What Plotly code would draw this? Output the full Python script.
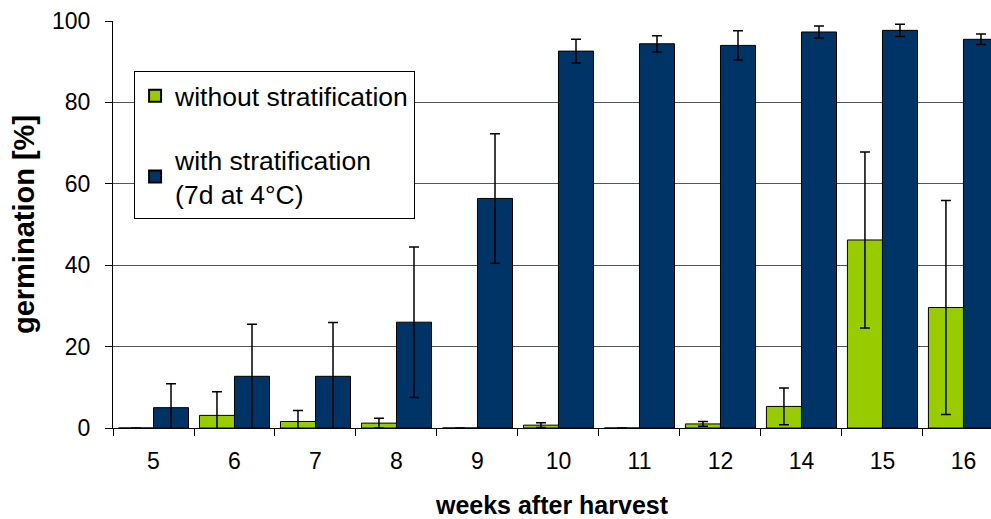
import plotly.graph_objects as go

weeks = ["5", "6", "7", "8", "9", "10", "11", "12", "14", "15", "16"]
without_strat = [0, 3.1, 1.6, 1.2, 0, 0.7, 0, 1.0, 5.3, 46.2, 29.6]
without_err = [0, 5.8, 2.7, 1.2, 0, 0.6, 0, 0.6, 4.5, 21.6, 26.3]
with_strat = [5.0, 12.7, 12.7, 26.0, 56.4, 92.6, 94.4, 94.0, 97.3, 97.7, 95.5]
with_err = [5.9, 12.8, 13.2, 18.5, 15.9, 2.9, 2.0, 3.6, 1.5, 1.5, 1.3]

FONT = "Liberation Sans, Arial, sans-serif"

fig = go.Figure()
fig.add_trace(go.Bar(
    x=weeks, y=without_strat, name="without stratification",
    legendgroup="a",
    marker=dict(color="#99CC00", line=dict(color="#000000", width=1)),
    error_y=dict(type="data", array=without_err, visible=True,
                 color="#000000", thickness=1.5, width=5),
))
fig.add_trace(go.Bar(
    x=weeks, y=with_strat, name="with stratification<br>(7d at 4°C)",
    legendgroup="b",
    marker=dict(color="#003366", line=dict(color="#000000", width=1)),
    error_y=dict(type="data", array=with_err, visible=True,
                 color="#000000", thickness=1.5, width=5),
))

fig.update_layout(
    width=991, height=519,
    margin=dict(l=113, r=0, t=21, b=91),
    paper_bgcolor="white", plot_bgcolor="white",
    barmode="group", bargap=0.135, bargroupgap=0,
    font=dict(family=FONT, size=23, color="#000000"),
    showlegend=True,
    legend=dict(
        x=0.024, y=0.877, xanchor="left", yanchor="top",
        bgcolor="white", bordercolor="#000000", borderwidth=1,
        font=dict(family=FONT, size=26.5, color="#000000"),
        tracegroupgap=26, itemsizing="constant", itemwidth=30,
    ),
)
fig.update_xaxes(
    type="category", range=[-0.5, 10.34],
    showline=True, linecolor="#000000", linewidth=1,
    ticks="outside", tickson="boundaries", ticklen=7, tickcolor="#000000",
    showgrid=False, ticklabelstandoff=12,
    tickfont=dict(family=FONT, size=23),
    title=dict(text="<b>weeks after harvest</b>", standoff=23,
               font=dict(family=FONT, size=25)),
)
fig.update_yaxes(
    range=[0, 100], tickvals=[0, 20, 40, 60, 80, 100],
    showline=True, linecolor="#000000", linewidth=1,
    ticks="outside", ticklen=7, tickcolor="#000000",
    showgrid=True, gridcolor="#555555", gridwidth=1,
    zeroline=False, ticklabelstandoff=10,
    tickfont=dict(family=FONT, size=23),
    title=dict(text="<b>germination [%]</b>", standoff=8,
               font=dict(family=FONT, size=29)),
)

fig.write_html("out.html")
